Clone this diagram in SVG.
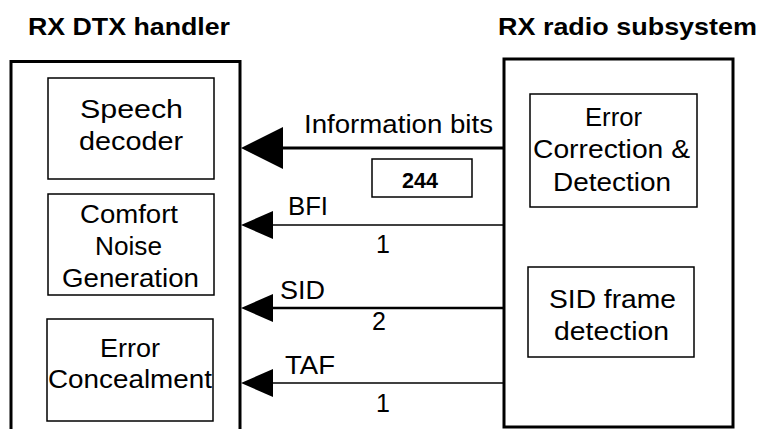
<svg xmlns="http://www.w3.org/2000/svg" width="762" height="429" viewBox="0 0 762 429">
<style>
text{font-family:"Liberation Sans",Arial,sans-serif;font-size:25px;fill:#000}
.b{font-weight:bold}
.t{font-size:24px}
.n{font-size:22px}
.outer{fill:none;stroke:#000;stroke-width:3}
.inner{fill:none;stroke:#000;stroke-width:1.5}
.ah{fill:#000;stroke:none}
</style>
<rect width="762" height="429" fill="#fff"/>
<g id="title-left"><text class="b t" x="28" y="35" textLength="202" lengthAdjust="spacingAndGlyphs">RX DTX handler</text></g>
<g id="title-right"><text class="b t" x="498" y="35" textLength="259" lengthAdjust="spacingAndGlyphs">RX radio subsystem</text></g>
<g id="rx-dtx-handler"><rect class="outer" x="11" y="61.5" width="229" height="380"/></g>
<g id="rx-radio-subsystem"><rect class="outer" x="504" y="59" width="229" height="368"/></g>
<g id="speech-decoder">
<rect class="inner" x="48" y="78" width="166" height="101"/>
<text x="80" y="118" textLength="103" lengthAdjust="spacingAndGlyphs">Speech</text>
<text x="79" y="150" textLength="104" lengthAdjust="spacingAndGlyphs">decoder</text>
</g>
<g id="comfort-noise">
<rect class="inner" x="48" y="194" width="166" height="101"/>
<text x="80" y="223" textLength="98" lengthAdjust="spacingAndGlyphs">Comfort</text>
<text x="95" y="255" textLength="67" lengthAdjust="spacingAndGlyphs">Noise</text>
<text x="62" y="287" textLength="137" lengthAdjust="spacingAndGlyphs">Generation</text>
</g>
<g id="error-concealment">
<rect class="inner" x="47" y="319" width="166" height="102"/>
<text x="100" y="357" textLength="60" lengthAdjust="spacingAndGlyphs">Error</text>
<text x="48" y="388" textLength="164" lengthAdjust="spacingAndGlyphs">Concealment</text>
</g>
<g id="error-correction">
<rect class="inner" x="530" y="94" width="167" height="113"/>
<text x="585" y="126" textLength="57" lengthAdjust="spacingAndGlyphs">Error</text>
<text x="533" y="158" textLength="157" lengthAdjust="spacingAndGlyphs">Correction &amp;</text>
<text x="553" y="191" textLength="118" lengthAdjust="spacingAndGlyphs">Detection</text>
</g>
<g id="sid-frame-detection">
<rect class="inner" x="528" y="267" width="166" height="90"/>
<text x="549" y="308" textLength="127" lengthAdjust="spacingAndGlyphs">SID frame</text>
<text x="554" y="340" textLength="115" lengthAdjust="spacingAndGlyphs">detection</text>
</g>
<g id="bits-244">
<rect class="inner" x="372" y="159" width="100" height="38"/>
<text class="b n" x="402" y="188" textLength="36" lengthAdjust="spacingAndGlyphs">244</text>
</g>
<g id="connectors">
<line x1="280" y1="148" x2="503" y2="148" stroke="#000" stroke-width="3"/>
<polygon class="ah" points="241,148 283,127 283,169"/>
<text x="304" y="133" textLength="189" lengthAdjust="spacingAndGlyphs">Information bits</text>
<line x1="270" y1="225" x2="503" y2="225" stroke="#000" stroke-width="1.5"/>
<polygon class="ah" points="241,225 273,211 273,239"/>
<text x="288" y="215" textLength="40" lengthAdjust="spacingAndGlyphs">BFI</text>
<text x="376" y="253">1</text>
<line x1="270" y1="308" x2="503" y2="308" stroke="#000" stroke-width="2.5"/>
<polygon class="ah" points="241,308 273,294 273,322"/>
<text x="280" y="299" textLength="45" lengthAdjust="spacingAndGlyphs">SID</text>
<text x="372" y="330">2</text>
<line x1="270" y1="383" x2="503" y2="383" stroke="#000" stroke-width="1.5"/>
<polygon class="ah" points="241,383 273,369 273,397"/>
<text x="285" y="374" textLength="50" lengthAdjust="spacingAndGlyphs">TAF</text>
<text x="376" y="412">1</text>
</g>
</svg>
